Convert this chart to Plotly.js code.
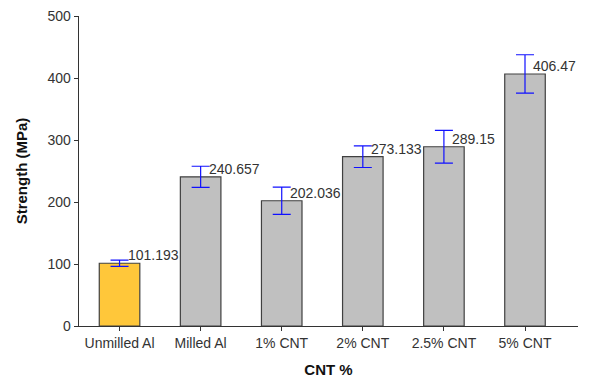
<!DOCTYPE html>
<html><head><meta charset="utf-8">
<script src="https://cdn.plot.ly/plotly-3.0.1.min.js"></script>
<style>html,body{margin:0;padding:0;background:#fff}#chart{width:593px;height:379px}</style>
</head><body><div id="chart"></div>
<script>
const categories = ["Unmilled Al", "Milled Al", "1% CNT", "2% CNT", "2.5% CNT", "5% CNT"];
const strength = [101.193, 240.657, 202.036, 273.133, 289.15, 406.47];
const errors = [5, 17, 22, 17.5, 26.5, 31];
const valueLabels = ["101.193", "240.657", "202.036", "273.133", "289.15", "406.47"];
const barColors = ["#ffc73a", "#c0c0c0", "#c0c0c0", "#c0c0c0", "#c0c0c0", "#c0c0c0"];

const trace = {
  type: "bar", x: categories, y: strength, width: 0.5,
  marker: {color: barColors, line: {color: "#404040", width: 1.2}},
  error_y: {type: "data", array: errors, visible: true, color: "#1010ff", thickness: 1.2, width: 9},
  hoverinfo: "none"
};
const annotations = categories.map((c, i) => ({
  x: c, y: strength[i], text: valueLabels[i], showarrow: false,
  xanchor: "left", yanchor: "middle", xshift: 6, yshift: 8,
  font: {family: "Liberation Sans, Arial, sans-serif", size: 14, color: "#333"}
}));
const layout = {
  width: 593, height: 379,
  margin: {l: 79, r: 15, t: 16, b: 53},
  paper_bgcolor: "#fff", plot_bgcolor: "#fff",
  showlegend: false, bargap: 0.5,
  font: {family: "Liberation Sans, Arial, sans-serif", size: 14, color: "#333"},
  xaxis: {
    showline: true, linecolor: "#333", linewidth: 1.3, ticks: "outside", ticklen: 4, tickcolor: "#333",
    showgrid: false, zeroline: false,
    tickfont: {size: 14, color: "#333"},
    title: {text: "CNT %", font: {size: 15, color: "#111", weight: "bold"}, standoff: 14}
  },
  yaxis: {
    range: [0, 500], tickvals: [0, 100, 200, 300, 400, 500],
    showline: true, linecolor: "#333", linewidth: 1.3, ticks: "outside", ticklen: 4, tickcolor: "#333",
    showgrid: false, zeroline: false,
    tickfont: {size: 14, color: "#333"},
    title: {text: "Strength (MPa)", font: {size: 15, color: "#111", weight: "bold"}, standoff: 16}
  },
  annotations: annotations
};
Plotly.newPlot("chart", [trace], layout, {displayModeBar: false, staticPlot: true});
</script></body></html>
